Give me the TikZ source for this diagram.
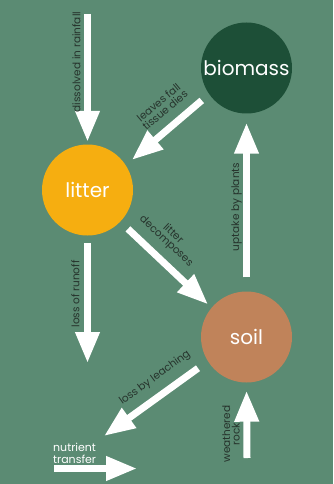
\documentclass[tikz,border=0pt]{standalone}
\usepackage{fontspec}
\setmainfont{Poppins}
\usetikzlibrary{arrows.meta}
\definecolor{bg}{HTML}{5B8B73}
\definecolor{biomasscol}{HTML}{1D4F37}
\definecolor{littercol}{HTML}{F6AE10}
\definecolor{soilcol}{HTML}{C0835A}
\definecolor{labelcol}{HTML}{26332C}
\begin{document}
\begin{tikzpicture}[x=1pt,y=-1pt,
  pool/.style={circle,minimum size=91pt,inner sep=0pt,text=white,font=\fontsize{20}{24}\selectfont},
  flow/.style={white,line width=7pt,-{Triangle[length=31pt,width=23pt]}},
  lbl/.style={text=labelcol,font=\fontsize{10.5}{10}\selectfont,inner sep=0pt,align=center}]
\useasboundingbox (0,0) rectangle (333,484);
\fill[bg] (0,0) rectangle (333,484);
% pools
\node[pool,fill=biomasscol] (biomass) at (246.5,68) {biomass};
\node[pool,fill=littercol] (litter) at (87.5,190) {litter};
\node[pool,fill=soilcol] (soil) at (246.5,337) {soil};
% free ends
\coordinate (rain) at (87.5,14);
\coordinate (runoff) at (87.5,363);
\coordinate (leach) at (104,436);
\coordinate (rock) at (247,458);
\coordinate (transA) at (54,468.5);
\coordinate (transB) at (137,468.5);
% flows
\draw[flow,shorten >=2.5pt] (rain) -- (litter.90);
\draw[flow,shorten <=9.6pt,shorten >=8pt] (biomass.215) -- (litter.33);
\draw[flow,shorten <=10.4pt,shorten >=4.7pt] (litter.316) -- (soil.140);
\draw[flow,shorten <=14pt,shorten >=9pt] (soil.90) -- (biomass.270);
\draw[flow,shorten <=7.5pt] (litter.270) -- (runoff);
\draw[flow,shorten <=12pt] (soil.212) -- (leach);
\draw[flow,shorten >=8pt] (rock) -- (soil.270);
\draw[flow] (transA) -- (transB);
% labels
\node[lbl,rotate=90] (lrain) at (76.5,62) {dissolved in rainfall};
\node[lbl,rotate=40] (lleaves) at (161.8,106.2) {leaves fall\\tissue dies};
\node[lbl,rotate=-43] (ldecomp) at (169.5,237.8) {litter\\decomposes};
\node[lbl,rotate=90] (luptake) at (236.5,207) {uptake by plants};
\node[lbl,rotate=90] (lrunoff) at (75.5,294) {loss of runoff};
\node[lbl,rotate=36] (lleach) at (155,378) {loss by leaching};
\node[lbl,rotate=90,font=\fontsize{10.5}{9.5}\selectfont] (lrock) at (231,434) {weathered\\rock};
\node[lbl,text=white,align=left,anchor=south west,font=\fontsize{11}{12}\selectfont] (ltrans) at (53,464) {nutrient\\transfer};
\end{tikzpicture}
\end{document}
